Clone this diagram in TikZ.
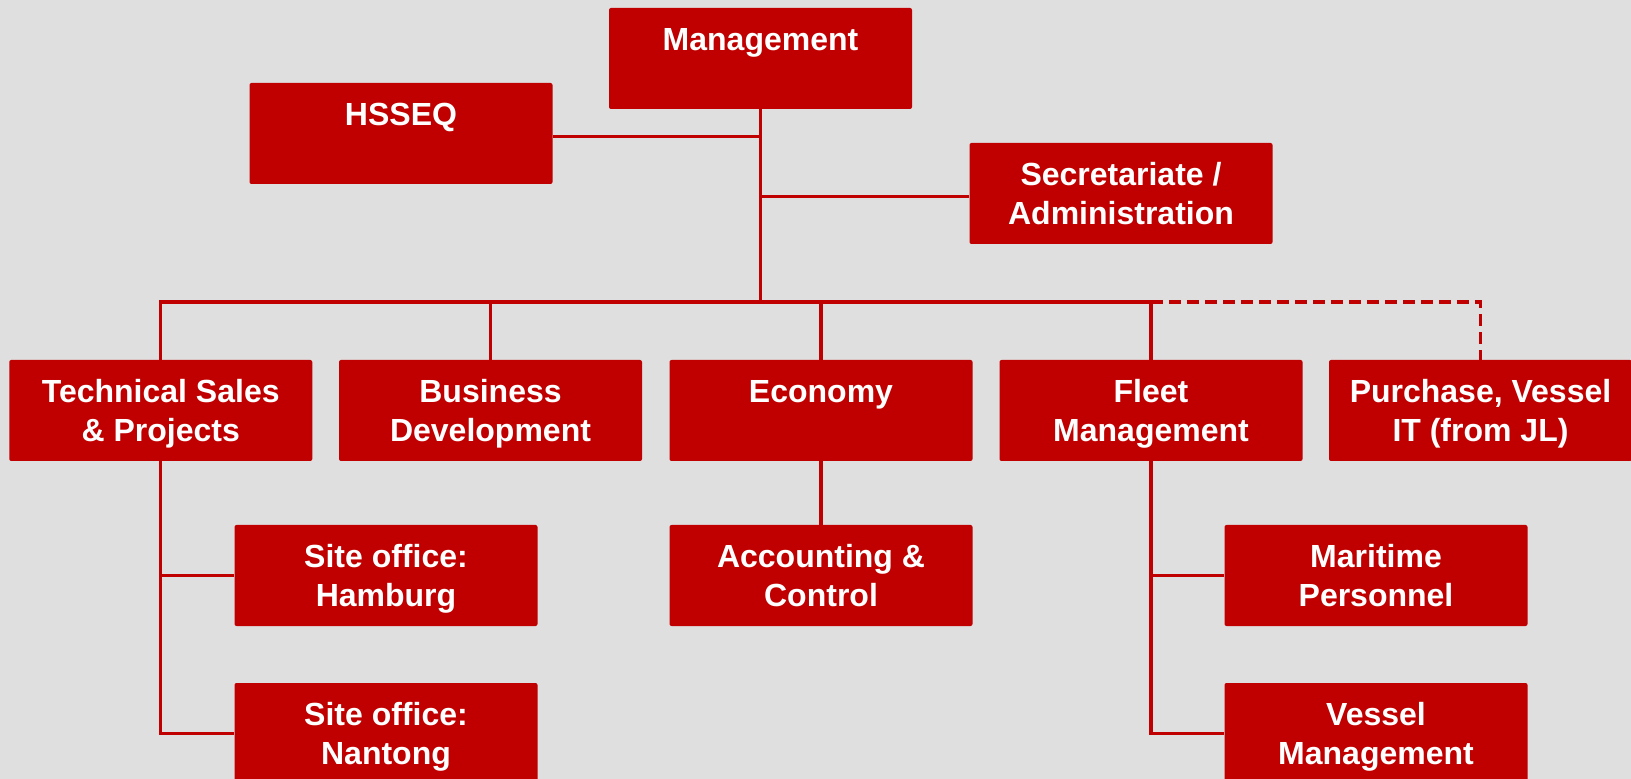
\documentclass[tikz,border=0pt]{standalone}
\usepackage{fontspec}
\setmainfont{Liberation Sans}
\usepackage{tikz}
\definecolor{boxred}{RGB}{192,0,0}
\definecolor{bggray}{RGB}{223,223,223}

\begin{document}
\begin{tikzpicture}[x=0.5pt, y=-0.5pt,
	unit/.style={fill=boxred, text=white, rounded corners=1pt, inner sep=0pt,
		minimum width=151.5pt, minimum height=50.5pt, align=center, text depth=0pt,
		font=\bfseries\fontsize{16}{19.2}\selectfont},
	link/.style={draw=boxred, line width=1.7pt},
	dashlink/.style={link, dash pattern=on 6pt off 3pt}]
			\path[use as bounding box, fill=bggray] (0,0) rectangle (1631,779);
			\clip (0,0) rectangle (1631,779);
			% head and staff
			\node[unit] (mgmt) at (760.5,58.5) {Management\\~};
			\node[unit] (hsseq) at (401,133.5) {HSSEQ\\~};
			\node[unit] (secr) at (1121,193.5) {Secretariate /\\Administration};
			% departments
			\node[unit] (tech) at (160.75,410.5) {Technical Sales\\\& Projects};
			\node[unit] (bizdev) at (490.5,410.5) {Business\\Development};
			\node[unit] (econ) at (821,410.5) {Economy\\~};
			\node[unit] (fleet) at (1151,410.5) {Fleet\\Management};
			\node[unit] (purch) at (1480.5,410.5) {Purchase, Vessel\\IT (from JL)};
			% sub units
			\node[unit] (hamburg) at (386,575.5) {Site office:\\Hamburg};
			\node[unit] (acct) at (821,575.5) {Accounting \&\\Control};
			\node[unit] (marit) at (1376,575.5) {Maritime\\Personnel};
			\node[unit] (nantong) at (386,733.5) {Site office:\\Nantong};
			\node[unit] (vessel) at (1376,733.5) {Vessel\\Management};
			% lines
			\coordinate (bus) at (760.5,302);
			\draw[link] (mgmt.south) -- (bus);
			\draw[link] ([yshift=-1.5pt]hsseq.east) -- ([yshift=-1.5pt]hsseq.east -| mgmt.south);
			\draw[link] ([yshift=-1.5pt]secr.west) -- ([yshift=-1.5pt]secr.west -| mgmt.south);
			\draw[link] (tech.north) |- (fleet.north |- bus);
			\foreach \n in {bizdev,econ,fleet}
				\draw[link] (\n.north |- bus) -- (\n.north);
			\draw[dashlink] (fleet.north |- bus) -| (purch.north);
			\draw[link] (econ.south) -- (acct.north);
			\draw[link] (tech.south) |- (nantong.west);
			\draw[link] (hamburg.west -| tech.south) -- (hamburg.west);
			\draw[link] (fleet.south) |- (vessel.west);
			\draw[link] (marit.west -| fleet.south) -- (marit.west);
		\end{tikzpicture}
\end{document}
